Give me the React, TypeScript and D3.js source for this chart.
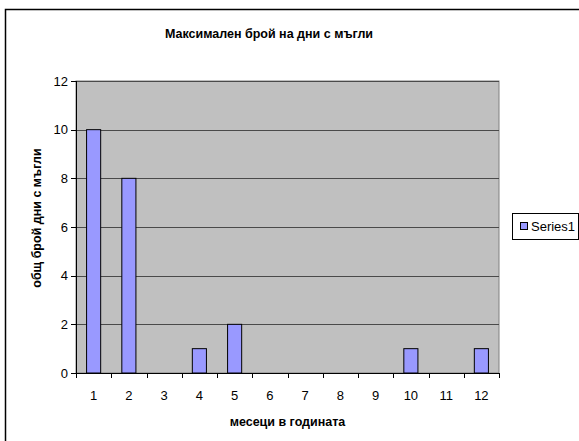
import * as d3 from "d3";

// chart values
const months = ["1", "2", "3", "4", "5", "6", "7", "8", "9", "10", "11", "12"];
const fogDays = [10, 8, 0, 1, 2, 0, 0, 0, 0, 1, 0, 1];
const yTicks = [0, 2, 4, 6, 8, 10, 12];
const seriesName = "Series1";
const chartTitle = "Максимален брой на дни с мъгли";
const xTitle = "месеци в годината";
const yTitle = "общ брой дни с мъгли";

const W = 579, H = 441;
const plot = {left: 76, top: 81, right: 499, bottom: 373};
const font = "'Liberation Sans', Arial, sans-serif";

export default function App() {
    const x = d3.scaleBand<string>()
        .domain(months)
        .range([plot.left, plot.right]);
    const y = d3.scaleLinear()
        .domain([0, 12])
        .range([plot.bottom, plot.top]);

    const bw = x.bandwidth() * 0.4;
    const bounds = d3.range(months.length + 1).map(i => plot.left + i * x.step());

    return (
        <svg width={W} height={H} style={{position: "absolute", left: 0, top: 0, background: "#fff"}}
             fontFamily={font}>
            {/* outer chart frame */}
            <rect x={5.5} y={9.5} width={W} height={H} fill="#fff" stroke="#000" strokeWidth={1.5}/>

            <text x={269} y={38} textAnchor="middle" fontSize={12.5} fontWeight="bold">{chartTitle}</text>

            {/* plot area */}
            <rect x={plot.left} y={plot.top} width={plot.right - plot.left} height={plot.bottom - plot.top}
                  fill="#c0c0c0" stroke="#808080" strokeWidth={1}/>

            {yTicks.filter(t => t > 0).map(t => (
                <line key={"g" + t} x1={plot.left} x2={plot.right} y1={Math.round(y(t)) + 0.5} y2={Math.round(y(t)) + 0.5}
                      stroke="#4a4a4a" strokeWidth={1}/>
            ))}

            {fogDays.map((v, i) => v > 0 && (
                <rect key={"b" + i}
                      x={x(months[i])! + (x.bandwidth() - bw) / 2}
                      y={y(v)}
                      width={bw}
                      height={y(0) - y(v)}
                      fill="#9999ff" stroke="#000" strokeWidth={1}/>
            ))}

            {/* y axis */}
            <line x1={plot.left + 0.5} x2={plot.left + 0.5} y1={plot.top} y2={plot.bottom} stroke="#000"/>
            {yTicks.map(t => (
                <g key={"y" + t}>
                    <line x1={plot.left - 5} x2={plot.left} y1={Math.round(y(t)) + 0.5} y2={Math.round(y(t)) + 0.5} stroke="#000"/>
                    <text x={plot.left - 8} y={y(t)} dy="0.35em" textAnchor="end" fontSize={13}>{t}</text>
                </g>
            ))}

            {/* x axis */}
            <line x1={plot.left} x2={plot.right} y1={plot.bottom + 0.5} y2={plot.bottom + 0.5} stroke="#000"/>
            {bounds.map((b, i) => (
                <line key={"xt" + i} x1={Math.round(b) + 0.5} x2={Math.round(b) + 0.5} y1={plot.bottom} y2={plot.bottom + 5} stroke="#000"/>
            ))}
            {months.map(m => (
                <text key={"x" + m} x={x(m)! + x.bandwidth() / 2} y={400} textAnchor="middle" fontSize={13}>{m}</text>
            ))}

            <text x={(plot.left + plot.right) / 2} y={426} textAnchor="middle" fontSize={12.5} fontWeight="bold">{xTitle}</text>
            <text transform="translate(41,218) rotate(-90)" textAnchor="middle"
                  fontSize={12.5} fontWeight="bold">{yTitle}</text>

            {/* legend */}
            <rect x={512.5} y={213.5} width={66} height={26} fill="#fff" stroke="#000"/>
            <rect x={520.5} y={222.5} width={7} height={7} fill="#9999ff" stroke="#000"/>
            <text x={531} y={231} fontSize={13}>{seriesName}</text>
        </svg>
    );
}
